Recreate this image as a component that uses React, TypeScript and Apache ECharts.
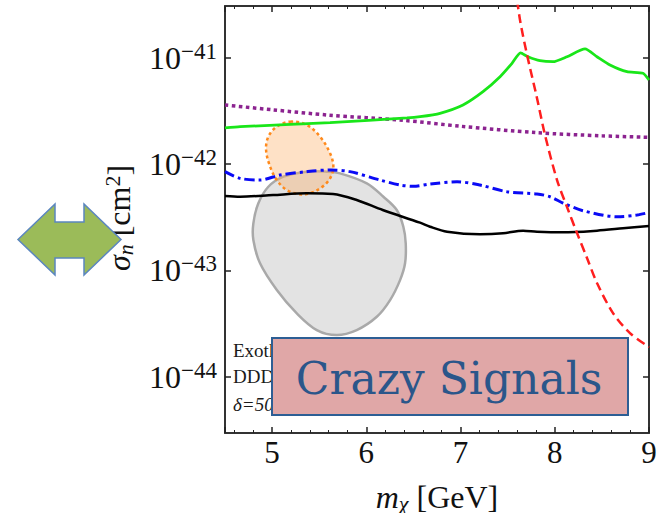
import React, { useEffect, useRef } from 'react';
import * as echarts from 'echarts';

// Axis ranges: dark matter mass (GeV) and log10 of the cross section (cm^2)
const massRange = [4.5, 9];
const logSigmaRange = [-44.53, -40.514];

// Exclusion curves as [m_chi (GeV), log10(sigma_n / cm^2)]
const greenLimit = [
  [4.5, -41.661], [4.66, -41.649], [5.615, -41.611], [6.432, -41.567], [6.57, -41.555],
  [6.782, -41.523], [7.026, -41.445], [7.238, -41.32], [7.419, -41.179], [7.546, -41.053],
  [7.636, -40.955], [7.716, -40.991], [7.843, -41.028], [7.981, -41.038], [8.13, -40.991],
  [8.321, -40.918], [8.448, -40.991], [8.586, -41.069], [8.766, -41.132], [8.936, -41.147],
  [9.0, -41.21],
];
const purpleLimit = [
  [4.5, -41.445], [5.0, -41.49], [5.6, -41.54], [6.4, -41.59], [7.0, -41.645],
  [7.8, -41.705], [8.5, -41.735], [9.0, -41.749],
];
const blueLimit = [
  [4.5, -42.072], [4.66, -42.135], [4.872, -42.151], [5.085, -42.104], [5.368, -42.072],
  [5.615, -42.056], [5.827, -42.072], [6.146, -42.151], [6.358, -42.198], [6.5, -42.21],
  [6.676, -42.188], [6.963, -42.167], [7.206, -42.198], [7.493, -42.261], [7.811, -42.282],
  [7.949, -42.308], [8.087, -42.367], [8.299, -42.439], [8.66, -42.496], [8.872, -42.48],
  [9.0, -42.456],
];
const blackLimit = [
  [4.5, -42.301], [4.66, -42.308], [5.01, -42.292], [5.368, -42.276], [5.647, -42.282],
  [5.898, -42.339], [6.174, -42.433], [6.57, -42.552], [6.676, -42.59], [6.857, -42.637],
  [7.206, -42.661], [7.451, -42.652], [7.663, -42.627], [7.811, -42.637], [8.087, -42.643],
  [8.448, -42.627], [8.724, -42.605], [9.0, -42.583],
];
const redLimit = [
  [7.58, -40.33], [7.631, -40.645], [7.702, -40.959], [7.808, -41.367], [7.896, -41.726],
  [8.024, -42.151], [8.13, -42.405], [8.236, -42.649], [8.342, -42.884], [8.448, -43.119],
  [8.618, -43.402], [8.798, -43.59], [9.0, -43.722],
];

// Signal regions (closed contours)
const grayRegion = [
  [5.721, -42.088], [6.005, -42.182], [6.181, -42.308], [6.323, -42.433], [6.393, -42.59],
  [6.418, -42.746], [6.411, -42.934], [6.358, -43.092], [6.252, -43.28], [6.111, -43.437],
  [5.898, -43.562], [5.686, -43.609], [5.474, -43.562], [5.262, -43.405], [5.05, -43.185],
  [4.872, -42.934], [4.801, -42.715], [4.801, -42.558], [4.854, -42.37], [4.96, -42.214],
  [5.12, -42.119], [5.368, -42.072], [5.58, -42.072],
];
const orangeRegion = [
  [5.191, -41.602], [5.368, -41.633], [5.509, -41.743], [5.615, -41.899], [5.65, -42.025],
  [5.615, -42.135], [5.527, -42.219], [5.403, -42.276], [5.297, -42.285], [5.156, -42.245],
  [5.05, -42.151], [4.979, -42.025], [4.936, -41.868], [4.96, -41.743], [5.05, -41.649],
];

const xTickLabels = ['5', '6', '7', '8', '9'];
const noteLines = ['Exothermic DM', 'DDDM', 'δ=50 keV'];
const bannerText = 'Crazy Signals';

const SERIF = "'Liberation Serif', 'DejaVu Serif', serif";
const toSigma = (pts: number[][]) => pts.map(([m, e]) => [m, Math.pow(10, e)]);

function regionSeries(pts: number[][], style: any) {
  const data = toSigma(pts);
  return {
    type: 'custom',
    xAxisIndex: 0,
    yAxisIndex: 0,
    silent: true,
    data,
    encode: { x: 0, y: 1 },
    renderItem: (params: any, api: any) => {
      if (params.dataIndex !== 0) return null;
      return {
        type: 'polygon',
        shape: { points: data.map((p) => api.coord(p)), smooth: 0.35 },
        style,
      };
    },
  };
}

function lineSeries(pts: number[][], color: string, width: number, type: any, smooth: number) {
  return {
    type: 'line',
    xAxisIndex: 0,
    yAxisIndex: 0,
    data: toSigma(pts),
    showSymbol: false,
    symbol: 'none',
    smooth,
    silent: true,
    lineStyle: { color, width, type, cap: 'butt' },
  };
}

const frameLine = { show: true, onZero: false, lineStyle: { color: '#333', width: 2 } };
const majorTick = { show: true, inside: true, length: 6, lineStyle: { color: '#222', width: 1.5 } };

function xAxisCfg(position: 'top' | 'bottom', labels: boolean) {
  return {
    type: 'value',
    position,
    min: massRange[0],
    max: massRange[1],
    axisLine: frameLine,
    axisTick: majorTick,
    minorTick: { show: true, splitNumber: 5, length: 3, lineStyle: { color: '#222', width: 1 } },
    splitLine: { show: false },
    axisLabel: {
      show: labels,
      margin: 4,
      fontFamily: SERIF,
      fontSize: 31,
      color: '#111',
      formatter: (v: number) => {
        const s = String(Math.round(v));
        return Math.abs(v - Math.round(v)) < 1e-6 && xTickLabels.includes(s) ? s : '';
      },
    },
  };
}

function yAxisCfg(position: 'left' | 'right', labels: boolean) {
  return {
    type: 'log',
    logBase: 10,
    position,
    min: Math.pow(10, logSigmaRange[0]),
    max: Math.pow(10, logSigmaRange[1]),
    axisLine: frameLine,
    axisTick: majorTick,
    splitLine: { show: false },
    axisLabel: {
      show: labels,
      margin: 8,
      formatter: (v: number) => {
        const l = Math.log10(v);
        const e = Math.round(l);
        if (Math.abs(l - e) > 1e-3) return '';
        return `{b|10}{s|\u2212${-e}}`;
      },
      rich: {
        b: { fontFamily: SERIF, fontSize: 32, lineHeight: 36, color: '#111' },
        s: { fontFamily: SERIF, fontSize: 23, lineHeight: 19, verticalAlign: 'top', color: '#111' },
      },
    },
  };
}

const titleRich = {
  i: { fontFamily: SERIF, fontSize: 32, fontStyle: 'italic', lineHeight: 35, fill: '#111', color: '#111' },
  t: { fontFamily: SERIF, fontSize: 32, lineHeight: 35, fill: '#111', color: '#111' },
  sub: {
    fontFamily: SERIF, fontSize: 22, fontStyle: 'italic', lineHeight: 19,
    verticalAlign: 'bottom', fill: '#111', color: '#111',
  },
  sup: { fontFamily: SERIF, fontSize: 22, lineHeight: 19, verticalAlign: 'top', fill: '#111', color: '#111' },
};

export default function App() {
  const ref = useRef<HTMLDivElement>(null);

  useEffect(() => {
    if (!ref.current) return;
    const chart = echarts.init(ref.current, undefined, { renderer: 'svg' });

    const xMain: any = xAxisCfg('bottom', true);
    xMain.name = '{i|m}{sub|\u03c7}{t| [GeV]}';
    xMain.nameLocation = 'middle';
    xMain.nameGap = 46;
    xMain.nameTextStyle = { fontFamily: SERIF, fontSize: 31, color: '#111', rich: titleRich };

    const arrow = [
      [18, 239.5], [55, 204], [55, 222], [84, 222], [84, 204],
      [121, 239.5], [84, 275], [84, 258], [55, 258], [55, 275],
    ];

    chart.setOption({
      animation: false,
      backgroundColor: '#fff',
      grid: { left: 225, right: 20, top: 6, bottom: 80, containLabel: false, outerBoundsMode: 'none' },
      xAxis: [xMain, xAxisCfg('top', false)],
      yAxis: [yAxisCfg('left', true), yAxisCfg('right', false)],
      series: [
        regionSeries(grayRegion, { fill: '#E3E3E3', stroke: '#A9A9A9', lineWidth: 2.5 }),
        regionSeries(orangeRegion, {
          fill: 'rgba(252, 176, 105, 0.38)',
          stroke: '#FF8A1C',
          lineWidth: 2.5,
          lineDash: [3, 3],
        }),
        lineSeries(blackLimit, '#000000', 2.5, 'solid', 0.3),
        lineSeries(blueLimit, '#0A0AF5', 3, [10, 4, 3, 4], 0.3),
        lineSeries(purpleLimit, '#8C2390', 3.5, [3.5, 3.5], 0.3),
        lineSeries(greenLimit, '#19E619', 2.8, 'solid', 0.2),
        lineSeries(redLimit, '#FF1F1F', 2.5, [9, 5], 0.3),
      ],
      graphic: [
        {
          type: 'text',
          z: 40,
          x: 119,
          y: 218,
          rotation: Math.PI / 2,
          style: {
            text: '{i|\u03c3}{sub|n}{t| [cm}{sup|2}{t|]}',
            rich: titleRich,
            align: 'center',
            verticalAlign: 'middle',
          },
        },
        ...noteLines.map((t, i) => ({
          type: 'text',
          z: 50,
          x: 233,
          y: [350, 376, 404][i],
          style: {
            text: t,
            fontFamily: SERIF,
            fontSize: 19,
            fontStyle: i === 2 ? 'italic' : 'normal',
            fill: '#1a1a1a',
            verticalAlign: 'middle',
          },
        })),
        {
          type: 'rect',
          z: 100,
          shape: { x: 272, y: 338, width: 356, height: 77 },
          style: { fill: '#E0A7A7', stroke: '#2D5E94', lineWidth: 2 },
        },
        {
          type: 'text',
          z: 101,
          x: 449,
          y: 378,
          style: {
            text: bannerText,
            fontFamily: "'DejaVu Serif', serif",
            fontSize: 44,
            fill: '#2B568A',
            align: 'center',
            verticalAlign: 'middle',
          },
        },
        {
          type: 'polygon',
          z: 100,
          shape: { points: arrow },
          style: { fill: '#9BBB59', stroke: '#5B86BF', lineWidth: 1.5 },
        },
      ],
    });

    return () => chart.dispose();
  }, []);

  return (
    <div
      ref={ref}
      style={{ position: 'fixed', left: 0, top: 0, width: 669, height: 513, background: '#fff' }}
    />
  );
}
